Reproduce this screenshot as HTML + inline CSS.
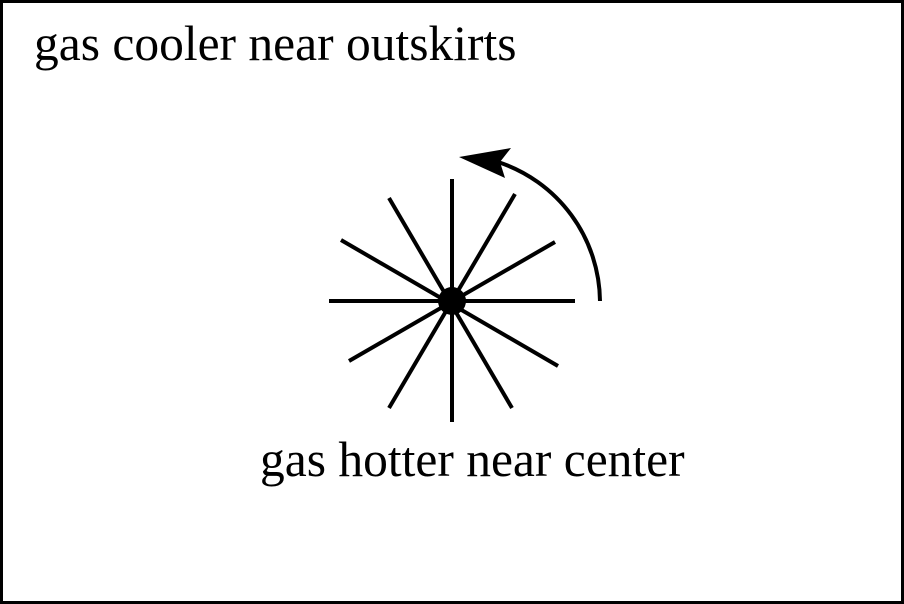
<!DOCTYPE html>
<html><head><style>
html,body{margin:0;padding:0;background:#fff}
svg{display:block}
text{font-family:"Liberation Serif",serif;font-size:49.5px;fill:#000}
</style></head><body>
<svg width="904" height="604" viewBox="0 0 904 604">
<rect x="1.5" y="1.5" width="901" height="601" fill="#fff" stroke="#000" stroke-width="3"/>
<text x="34" y="60">gas cooler near outskirts</text>
<text x="260" y="476">gas hotter near center</text>
<g stroke="#000" stroke-width="4">
<line x1="452" y1="179" x2="452" y2="422"/>
<line x1="329" y1="301" x2="575" y2="301"/>
<line x1="389" y1="198" x2="512" y2="408"/>
<line x1="515" y1="194" x2="389" y2="408"/>
<line x1="341" y1="240" x2="558" y2="366"/>
<line x1="555" y1="242" x2="349" y2="361"/>
</g>
<circle cx="452" cy="301" r="14" fill="#000"/>
<path d="M600 301 A148 148 0 0 0 498 162" fill="none" stroke="#000" stroke-width="4"/>
<path d="M459 157 L511 148 L500 162 L505 178 Z" fill="#000"/>
</svg>
</body></html>
